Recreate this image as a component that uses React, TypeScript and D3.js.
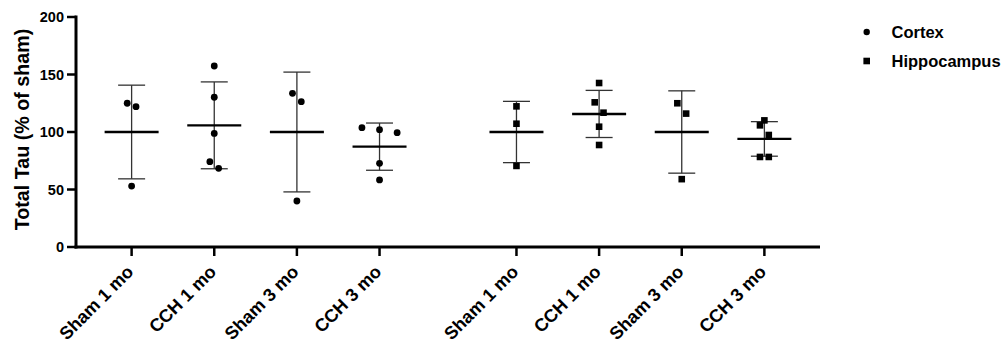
import React from "react";
import * as d3 from "d3";

const W = 1006;
const H = 347;

const CATEGORIES = ["Sham 1 mo", "CCH 1 mo", "Sham 3 mo", "CCH 3 mo"];
const REGIONS = ["Cortex", "Hippocampus"];
const Y_TICKS = [0, 50, 100, 150, 200];

// Cortex values (% of sham)
const cortexSham1 = [125, 122, 53];
const cortexCCH1 = [157.4, 130.2, 98.8, 74.2, 68.4];
const cortexSham3 = [133.6, 126.4, 40];
const cortexCCH3 = [103.8, 102, 99.4, 72.8, 58.3];
// Hippocampus values (% of sham)
const hippoSham1 = [122.3, 107.2, 70.5];
const hippoCCH1 = [142.6, 125.8, 116.8, 104.6, 88.7];
const hippoSham3 = [125, 116, 59];
const hippoCCH3 = [110.1, 105.8, 97.4, 78.3, 78.3];

// scatter spread steps (layout, GraphPad-like collision spreading)
const spreadCortex = [[-1, 1, 0], [0, 0, 0, -1, 1], [-1, 1, 0], [-4, 0, 4, 0, 0]];
const spreadHippo = [[0, 0, 0], [0, -1, 1, 0, 0], [-1, 1, 0], [0, -1, 1, -1, 1]];

const CORTEX = [cortexSham1, cortexCCH1, cortexSham3, cortexCCH3];
const HIPPO = [hippoSham1, hippoCCH1, hippoSham3, hippoCCH3];

const FONT = "'Liberation Sans', Arial, Helvetica, sans-serif";

export default function App() {
  const axisLeft = 76;
  const axisRight = 820;
  const GAP = 1.657;
  const PAD = 0.673;
  const x = d3
    .scaleLinear()
    .domain([-PAD, 3 + GAP + 3 + PAD])
    .range([axisLeft, axisRight]);
  const y = d3.scaleLinear().domain([0, 200]).range([247, 17]);

  const groups: { label: string; slot: number; values: number[]; spread: number[]; shape: string }[] = [];
  CATEGORIES.forEach((c, i) => {
    groups.push({ label: c, slot: i, values: CORTEX[i], spread: spreadCortex[i], shape: "circle" });
  });
  CATEGORIES.forEach((c, i) => {
    groups.push({ label: c, slot: i + 3 + GAP, values: HIPPO[i], spread: spreadHippo[i], shape: "square" });
  });

  const step = 4.4;
  const meanHalf = 27;
  const capHalf = 13.5;
  const r = 3.4;
  const sq = 6.6;

  return (
    <svg
      width={W}
      height={H}
      style={{ position: "absolute", left: 0, top: 0, background: "#fff" }}
      fontFamily={FONT}
    >
      <rect width={W} height={H} fill="#fff" />
      {/* y axis label */}
      <text
        transform={`translate(29,129.5) rotate(-90)`}
        textAnchor="middle"
        fontSize={19.7}
        fontWeight="bold"
        fill="#000"
      >
        Total Tau (% of sham)
      </text>
      {/* y axis */}
      <line x1={axisLeft} x2={axisLeft} y1={y(200) - 1.5} y2={y(0) + 1.5} stroke="#000" strokeWidth={3} />
      {Y_TICKS.map((t) => (
        <g key={t}>
          <line x1={axisLeft - 9} x2={axisLeft} y1={y(t)} y2={y(t)} stroke="#000" strokeWidth={2.5} />
          <text x={axisLeft - 12} y={y(t) + 5} textAnchor="end" fontSize={14.5} fontWeight="bold" fill="#000">
            {t}
          </text>
        </g>
      ))}
      {/* x axis */}
      <line x1={axisLeft - 1.5} x2={axisRight} y1={y(0)} y2={y(0)} stroke="#000" strokeWidth={3} />
      {groups.map((g, i) => (
        <g key={"xt" + i}>
          <line x1={x(g.slot)} x2={x(g.slot)} y1={y(0)} y2={y(0) + 9} stroke="#000" strokeWidth={2.5} />
          <text
            transform={`translate(${x(g.slot) + 3},${y(0) + 26}) rotate(-45)`}
            textAnchor="end"
            fontSize={18}
            fontWeight="bold"
            fill="#000"
          >
            {g.label}
          </text>
        </g>
      ))}
      {/* groups */}
      {groups.map((g, i) => {
        const cx = x(g.slot);
        const m = d3.mean(g.values) as number;
        const sd = d3.deviation(g.values) as number;
        return (
          <g key={"g" + i}>
            <line x1={cx} x2={cx} y1={y(m + sd)} y2={y(m - sd)} stroke="#333" strokeWidth={1.3} />
            <line x1={cx - capHalf} x2={cx + capHalf} y1={y(m + sd)} y2={y(m + sd)} stroke="#333" strokeWidth={1.3} />
            <line x1={cx - capHalf} x2={cx + capHalf} y1={y(m - sd)} y2={y(m - sd)} stroke="#333" strokeWidth={1.3} />
            <line x1={cx - meanHalf} x2={cx + meanHalf} y1={y(m)} y2={y(m)} stroke="#000" strokeWidth={2.4} />
            {g.values.map((v, j) => {
              const px = cx + g.spread[j] * step;
              const py = y(v);
              return g.shape === "circle" ? (
                <circle key={j} cx={px} cy={py} r={r} fill="#000" />
              ) : (
                <rect key={j} x={px - sq / 2} y={py - sq / 2} width={sq} height={sq} fill="#000" />
              );
            })}
          </g>
        );
      })}
      {/* legend */}
      {REGIONS.map((name, i) => {
        const ly = 32 + i * 29;
        return (
          <g key={name}>
            {i === 0 ? (
              <circle cx={866.7} cy={ly} r={3.2} fill="#000" />
            ) : (
              <rect x={866.7 - 3.3} y={ly - 3.3} width={6.6} height={6.6} fill="#000" />
            )}
            <text x={891.5} y={ly + 6} fontSize={16.5} fontWeight="bold" fill="#000">
              {name}
            </text>
          </g>
        );
      })}
    </svg>
  );
}
